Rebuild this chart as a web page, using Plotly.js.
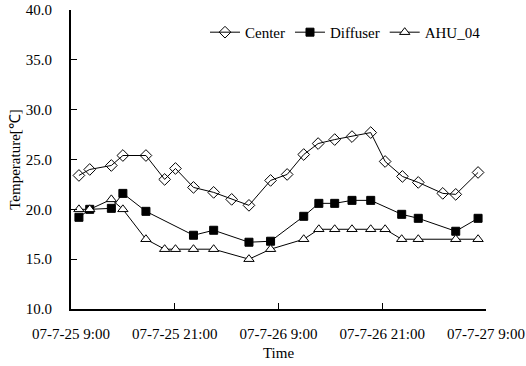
<!DOCTYPE html>
<html>
<head>
<meta charset="utf-8">
<script src="https://cdn.plot.ly/plotly-3.0.1.min.js"></script>
<style>html,body{margin:0;padding:0;background:#fff;}#chart{width:526px;height:366px;}</style>
</head>
<body>
<div id="chart"></div>
<script>
// Measurement times and temperatures (°C) for each sensor
const centerTime = [
  "2007-07-25 09:55", "2007-07-25 11:10", "2007-07-25 13:40", "2007-07-25 15:00",
  "2007-07-25 17:40", "2007-07-25 19:50", "2007-07-25 21:05", "2007-07-25 23:10",
  "2007-07-26 01:30", "2007-07-26 03:35", "2007-07-26 05:35", "2007-07-26 08:05",
  "2007-07-26 10:00", "2007-07-26 11:55", "2007-07-26 13:35", "2007-07-26 15:30",
  "2007-07-26 17:30", "2007-07-26 19:40", "2007-07-26 21:20", "2007-07-26 23:20",
  "2007-07-27 01:10", "2007-07-27 04:00", "2007-07-27 05:30", "2007-07-27 08:05"
];
const centerTemp = [
  23.4, 24.0, 24.4, 25.4, 25.4, 23.0, 24.1, 22.2, 21.7, 21.0, 20.4, 22.9,
  23.5, 25.5, 26.6, 27.0, 27.3, 27.7, 24.8, 23.3, 22.7, 21.6, 21.5, 23.7
];

const diffuserTime = [
  "2007-07-25 09:55", "2007-07-25 11:10", "2007-07-25 13:40", "2007-07-25 15:00",
  "2007-07-25 17:40", "2007-07-25 23:10", "2007-07-26 01:30", "2007-07-26 05:35",
  "2007-07-26 08:05", "2007-07-26 11:55", "2007-07-26 13:40", "2007-07-26 15:30",
  "2007-07-26 17:30", "2007-07-26 19:40", "2007-07-26 23:15", "2007-07-27 01:10",
  "2007-07-27 05:30", "2007-07-27 08:05"
];
const diffuserTemp = [
  19.2, 20.0, 20.1, 21.6, 19.8, 17.4, 17.9, 16.7, 16.8, 19.3, 20.6, 20.6,
  20.9, 20.9, 19.5, 19.1, 17.8, 19.1
];

const ahuTime = [
  "2007-07-25 09:55", "2007-07-25 11:10", "2007-07-25 13:40", "2007-07-25 15:00",
  "2007-07-25 17:40", "2007-07-25 19:50", "2007-07-25 21:05", "2007-07-25 23:10",
  "2007-07-26 01:30", "2007-07-26 05:35", "2007-07-26 08:05", "2007-07-26 11:55",
  "2007-07-26 13:40", "2007-07-26 15:30", "2007-07-26 17:30", "2007-07-26 19:40",
  "2007-07-26 21:20", "2007-07-26 23:15", "2007-07-27 01:10", "2007-07-27 05:30",
  "2007-07-27 08:05"
];
const ahuTemp = [
  20.0, 20.0, 21.0, 20.0, 17.0, 16.0, 16.0, 16.0, 16.0, 15.0, 16.0, 17.0,
  18.0, 18.0, 18.0, 18.0, 18.0, 17.0, 17.0, 17.0, 17.0
];

const seriesNames = ["Center", "Diffuser", "AHU_04"];
const tickTimes = [
  "2007-07-25 09:00", "2007-07-25 21:00", "2007-07-26 09:00",
  "2007-07-26 21:00", "2007-07-27 09:00"
];

const font = "Liberation Serif";
const txt = {family: font, size: 15, color: "#000"};
const line = {color: "#000", width: 1};

const traces = [
  {
    x: centerTime, y: centerTemp, name: seriesNames[0], type: "scatter", mode: "lines+markers",
    line: line,
    marker: {symbol: "diamond-open", size: 9, color: "#000", line: {width: 1, color: "#000"}}
  },
  {
    x: diffuserTime, y: diffuserTemp, name: seriesNames[1], type: "scatter", mode: "lines+markers",
    line: line,
    marker: {symbol: "square", size: 8, color: "#000", line: {width: 1, color: "#000"}}
  },
  {
    x: ahuTime, y: ahuTemp, name: seriesNames[2], type: "scatter", mode: "lines+markers",
    line: line,
    marker: {symbol: "triangle-up", size: 9, color: "#fff", line: {width: 1, color: "#000"}}
  }
];

const layout = {
  width: 526, height: 366,
  margin: {l: 71, r: 40, t: 10, b: 57},
  paper_bgcolor: "#fff", plot_bgcolor: "#fff",
  font: txt,
  showlegend: true,
  legend: {
    orientation: "h", x: 1.0, xanchor: "right", y: 0.925, yanchor: "middle",
    font: txt, itemwidth: 30, tracegroupgap: 0, bgcolor: "rgba(0,0,0,0)"
  },
  xaxis: {
    type: "date",
    range: ["2007-07-25 09:00", "2007-07-27 09:00"],
    tickmode: "array", tickvals: tickTimes,
    tickformat: "%y-%-m-%d %-H:%M",
    ticks: "inside", ticklen: 6, tickwidth: 1.2, tickcolor: "#000",
    showline: true, linecolor: "#000", linewidth: 1.5,
    showgrid: false, zeroline: false,
    ticklabelstandoff: 10,
    tickfont: txt,
    title: {text: "Time", font: txt, standoff: 7}
  },
  yaxis: {
    range: [10, 40], dtick: 5, tick0: 10, tickformat: ".1f",
    ticks: "inside", ticklen: 6, tickwidth: 1.2, tickcolor: "#000",
    showline: true, linecolor: "#000", linewidth: 2,
    showgrid: false, zeroline: false,
    ticklabelstandoff: 14,
    tickfont: txt,
    title: {text: "Temperature[℃]", font: txt, standoff: 2}
  }
};

Plotly.newPlot("chart", traces, layout, {displayModeBar: false, staticPlot: true});
</script>
</body>
</html>
